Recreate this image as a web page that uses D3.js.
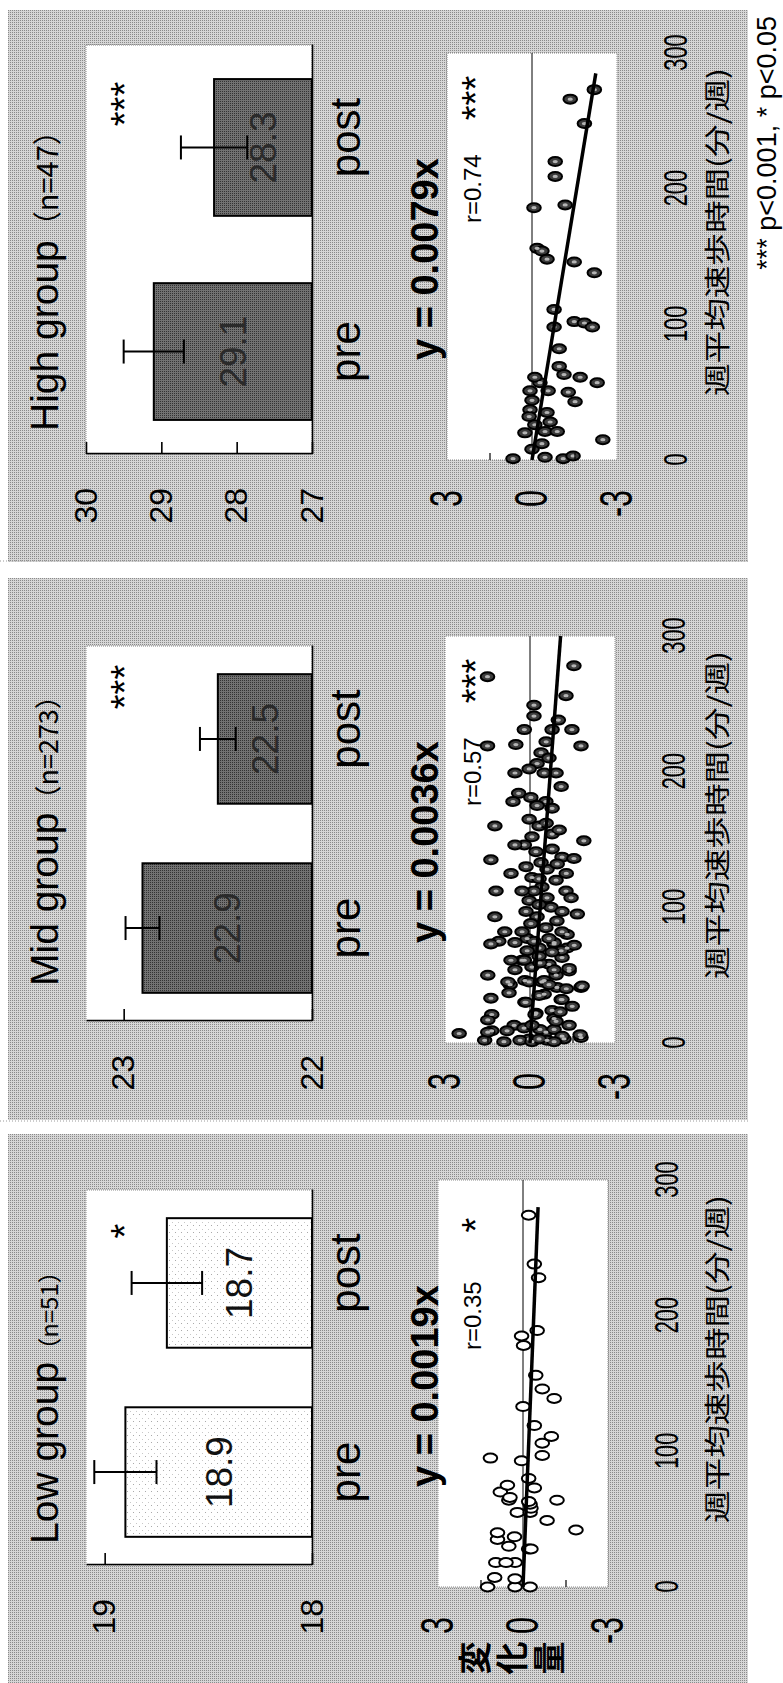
<!DOCTYPE html>
<html>
<head>
<meta charset="utf-8">
<script src="https://cdn.jsdelivr.net/npm/d3@7"></script>
<style>
body { margin: 0; background: #fff; }
svg { display: block; }
text { font-family: "Liberation Sans", Arial, sans-serif; fill: #000; }
.jp { font-family: "Noto Sans CJK JP", sans-serif; }
</style>
</head>
<body>
<div id="chart"></div>
<script>
var W = 783, H = 1683;

// ---- data ----
var groupNames = ["Low group", "Mid group", "High group"];
var groupN = ["（n=51）", "（n=273）", "（n=47）"];
var phases = ["pre", "post"];
var preMeans = [18.9, 22.9, 29.1];
var postMeans = [18.7, 22.5, 28.3];
var preErr = [0.15, 0.09, 0.4];
var postErr = [0.17, 0.095, 0.44];
var barDomains = [[18, 19.09], [22, 23.2], [27, 30]];
var barTicks = [[18, 19], [22, 23], [27, 28, 29, 30]];
var barStars = ["*", "***", "***"];
var slopes = [-0.0019, -0.0036, -0.0079];
var eqLabels = ["y = 0.0019x", "y = 0.0036x", "y = 0.0079x"];
var rLabels = ["r=0.35", "r=0.57", "r=0.74"];
var rStars = ["*", "***", "***"];
var lineEnds = [280, 300, 285];
var scatterXTicks = [0, 100, 200, 300];
var scatterYTicks = [3, 0, -3];
var xTitle = "週平均速歩時間(分/週)";
var yTitle = ["変", "化", "量"];
var footnote = "*** p<0.001, * p<0.05";

var lowPts = [[0,1.25],[0,0.28],[0,-0.25],[6,0.28],[7,1.0],[18,0.28],[28,-0.2],[28,-0.28],[30,0.5],[35,0.9],
  [37,0.3],[40,0.9],[42,-1.87],[49,-0.85],[55,0.2],[55,-0.25],[58,-0.28],[61,-0.25],[63,-0.2],[64,0.5],
  [64,-1.2],[73,-0.4],[80,-0.2],[93,0.05],[95,1.15],[97,-0.68],[106,-0.68],[111,-1.0],[119,-0.4],[133,0],
  [139,-1.1],[146,-0.68],[156,-0.45],[178,-0.02],[185,0.05],[189,-0.5],[228,-0.55],[238,-0.4],[274,-0.2],
  [18,0.96],[18,0.6],[70,0.8],[75,0.55],[66,0.46]];

var midPts = [[278,-1.55],[256,-1.27],[249,-0.14],[241,-0.14],[238,-1.0],[231,-1.48],[231,-0.78],[219,-1.8],
  [214,-0.39],[210,-0.67],[206,-0.25],[199,-0.92],[189,-1.1],[184,0.4],[181,-0.03],[178,-0.56],[165,0.03],
  [160,-0.32],[154,-0.78],[149,-1.9],[146,0.2],[141,-0.21],[137,-1.13],[136,-1.55],[130,0.14],[128,-0.6],
  [122,-0.07],[120,-0.92],[115,-0.42],[112,-1.27],[107,-1.45],[105,0.03],[100,-0.74],[97,-1.13],[93,-0.25],
  [90,-0.95],[85,-0.56],[80,-1.31],[77,0.1],[73,-0.85],[70,-0.32],[63,-1.13],[58,-0.67],[56,-0.07],
  [50,-0.92],[45,-0.42],[41,-1.8],[32,-1.1],[24,-0.78],[22,-0.21],[13,-1.38],[8,-0.56],[4,-1.8],[3,0.03],
  [75,1.1],[74,0.53],[68,0.1],[74,-0.85],[70,-1.31],[61,0.28],[59,-0.35],[54,0.53],[54,-0.85],[53,-1.38],
  [43,0.7],[46,0.18],[46,-0.5],[41,-0.95],[42,-1.84],[37,0.74],[36,-0.5],[30,0.18],[32,-1.13],[21,1.35],
  [21,-0.18],[18,-0.85],[23,-1.06],[13,0.56],[9,1.35],[9,0.81],[11,0.21],[10,-0.35],[10,-0.85],[6,-1.77],
  [7,2.5],[2,1.6],[1,0.92],[2,0.35],[1,-0.07],[2,-0.6],[3,-1.2],[270,1.5],[219,1.5],
  [231,0.2],[222,-0.57],[202,0.03],[199,-0.5],[173,-0.78],[175,-0.25],[162,-0.57],[157,-1.03],[152,-0.07],
  [143,-0.78],[133,-0.39],[132,-0.96],[125,-1.28],[121,-0.32],[112,-0.14],[107,-0.6],[112,0.28],[102,-0.32],
  [95,-1.67],[97,0.14],[88,-0.03],[82,0.28],[82,-1.13],[77,-0.67],[75,-0.14],[72,-1.56],[68,-1.1],
  [64,-0.32],[61,0.2],[55,-1.38],[43,-0.67],[45,0.03],[40,-1.28],[35,-0.32],[30,0.14],[27,-1.49],
  [16,-0.92],[13,-0.07],[5,-1.13],[3,-0.32],[1,-0.85],[67,-0.78],
  [160,1.24],[135,1.38],[112,1.2],[93,1.24],[73,1.38],[50,1.49],[33,1.38],[17,1.49],[8,1.49],
  [82,0.89],[61,0.67],[45,0.78],[125,0.67],[146,0.53],[178,0.6],[199,0.53],[220,0.5]];

var highPts = [[1,0.67],[8,0],[20,0.25],[21,-0.46],[21,-0.89],[2,-0.46],[1,-1.1],[3,-1.45],[15,-2.5],
  [37,0.07],[35,-0.53],[44,0],[51,-0.57],[51,0.07],[57,-0.28],[50,-1.28],[43,-1.52],[57,-2.3],
  [273,-2.2],[266,-1.35],[248,-1.85],[220,-0.82],[209,-0.82],[188,-1.17],[186,-0.07],[156,-0.18],
  [154,-0.35],[148,-0.53],[146,-1.49],[138,-2.2],[111,-0.78],[102,-1.49],[101,-1.85],[98,-2.13],
  [98,-0.78],[82,-0.96],[69,-0.96],[63,-1.13],[61,-1.7],[61,-0.1],[28,-0.64],[12,-0.35],[32,0.1],[26,-0.1]];

var allPts = [lowPts, midPts, highPts];

// ---- layout (upright coordinates, the whole figure is turned 90 degrees) ----
var panels = [
  {ox: 0, gray: [-5, 549], sTop: 438, titleX: 139, nSize: 24, box: [118, 493], pin: 0.315, pout: 0.149},
  {ox: 544, gray: [563, 1105], sTop: 445, titleX: 153, nSize: 27, box: [118, 493], pin: 0.315, pout: 0.149},
  {ox: 1127, gray: [1121, 1673], sTop: 447, titleX: 125, nSize: 29, box: [102, 511], pin: 0.33, pout: 0.167}
];
var boxT = 86, boxB = 312;
var sL = 96, sR = 503, sH = 170;

var svg = d3.select("#chart").append("svg")
  .attr("width", W)
  .attr("height", H);

var defs = svg.append("defs");
var pat = defs.append("pattern").attr("id", "halftone")
  .attr("width", 2).attr("height", 2).attr("patternUnits", "userSpaceOnUse");
pat.append("rect").attr("width", 2).attr("height", 2).attr("fill", "#d6d6d6");
pat.append("rect").attr("width", 1).attr("height", 1).attr("fill", "#8a8a8a");

var patDark = defs.append("pattern").attr("id", "darkbar")
  .attr("width", 2).attr("height", 2).attr("patternUnits", "userSpaceOnUse");
patDark.append("rect").attr("width", 2).attr("height", 2).attr("fill", "#727272");
patDark.append("rect").attr("width", 1).attr("height", 1).attr("fill", "#333");

var patLight = defs.append("pattern").attr("id", "lightbar")
  .attr("width", 7).attr("height", 6).attr("patternUnits", "userSpaceOnUse");
patLight.append("rect").attr("width", 7).attr("height", 6).attr("fill", "#fff");
patLight.append("rect").attr("x", 2).attr("y", 1).attr("width", 1).attr("height", 1).attr("fill", "#aaa");
patLight.append("rect").attr("x", 5).attr("y", 4).attr("width", 1).attr("height", 1).attr("fill", "#c8c8c8");

svg.append("rect").attr("width", W).attr("height", H).attr("fill", "#fff");

var root = svg.append("g")
  .attr("transform", "translate(0," + H + ") rotate(-90)");

panels.forEach(function(p, i) {
  root.append("rect")
    .attr("x", p.gray[0]).attr("y", 8)
    .attr("width", p.gray[1] - p.gray[0]).attr("height", 740)
    .attr("fill", "url(#halftone)");

  var g = root.append("g").attr("transform", "translate(" + p.ox + ",0)");

  // title
  var t = g.append("text").attr("x", p.titleX).attr("y", 58).style("font-size", "39px");
  t.append("tspan").text(groupNames[i]);
  t.append("tspan").style("font-size", p.nSize + "px").attr("class", "jp").text(groupN[i]);

  // ---- bar chart ----
  var boxL = p.box[0], boxR = p.box[1];
  var xBar = d3.scaleBand().domain(phases).range([boxL, boxR])
    .paddingInner(p.pin).paddingOuter(p.pout);
  var yBar = d3.scaleLinear().domain(barDomains[i]).range([boxB, boxT]);

  g.append("rect").attr("x", boxL).attr("y", boxT)
    .attr("width", boxR - boxL).attr("height", boxB - boxT).attr("fill", "#fff")
    .attr("stroke", "#888").attr("stroke-width", 1).attr("stroke-dasharray", "1,1");

  var vals = [{k: "pre", v: preMeans[i], e: preErr[i]}, {k: "post", v: postMeans[i], e: postErr[i]}];

  g.selectAll(".bar").data(vals).enter().append("rect")
    .attr("class", "bar")
    .attr("x", function(d) { return xBar(d.k); })
    .attr("y", function(d) { return yBar(d.v); })
    .attr("width", xBar.bandwidth())
    .attr("height", function(d) { return boxB - yBar(d.v); })
    .attr("fill", i == 0 ? "url(#lightbar)" : "url(#darkbar)")
    .attr("stroke", "#000").attr("stroke-width", 2);

  var eb = g.selectAll(".err").data(vals).enter().append("g").attr("class", "err");
  eb.append("line")
    .attr("x1", function(d) { return xBar(d.k) + xBar.bandwidth() / 2; })
    .attr("x2", function(d) { return xBar(d.k) + xBar.bandwidth() / 2; })
    .attr("y1", function(d) { return yBar(d.v + d.e); })
    .attr("y2", function(d) { return yBar(d.v - d.e); })
    .attr("stroke", "#000").attr("stroke-width", 2);
  [1, -1].forEach(function(s) {
    eb.append("line")
      .attr("x1", function(d) { return xBar(d.k) + xBar.bandwidth() / 2 - 12; })
      .attr("x2", function(d) { return xBar(d.k) + xBar.bandwidth() / 2 + 12; })
      .attr("y1", function(d) { return yBar(d.v + s * d.e); })
      .attr("y2", function(d) { return yBar(d.v + s * d.e); })
      .attr("stroke", "#000").attr("stroke-width", 2);
  });

  g.selectAll(".barValue").data(vals).enter().append("text")
    .attr("class", "barValue")
    .attr("x", function(d) { return xBar(d.k) + xBar.bandwidth() / 2; })
    .attr("y", function(d) { return (yBar(d.v) + boxB) / 2; })
    .attr("dy", ".35em")
    .style("text-anchor", "middle")
    .style("font-size", "37px")
    .style("fill", i == 0 ? "#111" : "#2a2a2a")
    .text(function(d) { return d.v.toFixed(1); });

  var yAx = g.append("g").attr("transform", "translate(" + boxL + ",0)")
    .call(d3.axisLeft(yBar).tickValues(barTicks[i]).tickSize(-12).tickSizeOuter(0)
      .tickPadding(34).tickFormat(d3.format("d")));
  yAx.selectAll("path, line").attr("stroke", "#000").attr("stroke-width", 1.6);
  yAx.selectAll("text").style("font-size", "32px").style("font-family", null);

  var xAx = g.append("g").attr("transform", "translate(0," + boxB + ")")
    .call(d3.axisBottom(xBar).tickSize(0).tickPadding(18));
  xAx.selectAll("path").attr("stroke", "#000").attr("stroke-width", 1.6);
  xAx.selectAll("text").style("font-size", "42px").style("font-family", null)
    .attr("dx", function(d) { return d == "post" ? 10 : 0; });

  g.append("text").attr("x", 452).attr("y", 138)
    .style("text-anchor", "middle").style("font-size", "38px").text(barStars[i]);

  // ---- scatter ----
  var xS = d3.scaleLinear().domain([0, 300]).range([sL, sR]);
  var yS = d3.scaleLinear().domain([-3, 3]).range([p.sTop + sH, p.sTop]);

  g.append("rect").attr("x", sL).attr("y", p.sTop)
    .attr("width", sR - sL).attr("height", sH).attr("fill", "#fff")
    .attr("stroke", "#888").attr("stroke-width", 1).attr("stroke-dasharray", "1,1");

  g.append("line").attr("x1", sL).attr("x2", sR)
    .attr("y1", yS(0)).attr("y2", yS(0))
    .attr("stroke", "#000").attr("stroke-width", 1);

  g.selectAll(".pt").data(allPts[i]).enter().append("ellipse")
    .attr("class", "pt")
    .attr("cx", function(d) { return xS(d[0]); })
    .attr("cy", function(d) { return yS(d[1]); })
    .attr("rx", 4.5).attr("ry", 6.8)
    .attr("fill", i == 0 ? "#fff" : "#3c3c3c")
    .attr("stroke", "#000").attr("stroke-width", 2);

  if (i > 0) {
    g.selectAll(".ptc").data(allPts[i]).enter().append("ellipse")
      .attr("class", "ptc")
      .attr("cx", function(d) { return xS(d[0]); })
      .attr("cy", function(d) { return yS(d[1]); })
      .attr("rx", 1.6).attr("ry", 2.6)
      .attr("fill", "#b4b4b4");
  }

  var reg = d3.line()
    .x(function(d) { return xS(d); })
    .y(function(d) { return yS(slopes[i] * d); });
  g.append("path").datum([0, lineEnds[i]]).attr("d", reg)
    .attr("stroke", "#000").attr("stroke-width", 3.5).attr("fill", "none");

  var sxAx = g.append("g").attr("transform", "translate(0," + (p.sTop + sH) + ")")
    .call(d3.axisBottom(xS).tickValues(scatterXTicks).tickSize(0).tickPadding(47));
  sxAx.select("path").remove();
  sxAx.selectAll("text").style("font-size", "33px").style("font-family", null)
    .attr("transform", "scale(0.66,1)");

  var syAx = g.append("g").attr("transform", "translate(" + sL + ",0)")
    .call(d3.axisLeft(yS).tickValues(scatterYTicks).tickSize(0)
      .tickFormat(function(d) { return String(d); }));
  syAx.select("path").remove();
  syAx.selectAll("text").style("font-size", "46px").style("font-family", null)
    .attr("x", 0).attr("transform", "translate(-30,0) scale(0.66,1)");

  var minor = g.append("g").attr("transform", "translate(" + sL + ",0)")
    .call(d3.axisLeft(yS).tickValues([1.5, -1.5]).tickSize(-7).tickFormat(""));
  minor.select("path").remove();
  minor.selectAll("line").attr("stroke", "#000").attr("stroke-width", 1.2);

  g.append("text").attr("x", 196).attr("y", 438)
    .style("font-size", "38px").style("font-weight", "bold").text(eqLabels[i]);
  g.append("text").attr("x", 333).attr("y", 481)
    .style("font-size", "24px").text(rLabels[i]);
  g.append("text").attr("x", 458).attr("y", 489)
    .style("text-anchor", "middle").style("font-size", "38px").text(rStars[i]);

  g.append("text").attr("class", "jp").attr("x", 160).attr("y", 727)
    .attr("textLength", 328).attr("lengthAdjust", "spacingAndGlyphs")
    .style("font-size", "26px").text(xTitle);
});

// faint scan lines between the panels
[562, 1122].forEach(function(u) {
  root.append("line").attr("x1", u).attr("x2", u).attr("y1", 0).attr("y2", 750)
    .attr("stroke", "#999").attr("stroke-width", 1).attr("stroke-dasharray", "1,2");
});

// y title, left of the first panel
root.selectAll(".ytitle").data(yTitle).enter().append("text")
  .attr("class", "jp")
  .attr("x", 25)
  .attr("y", function(d, i) { return 475 + i * 37; })
  .attr("dy", ".35em")
  .style("text-anchor", "middle")
  .style("font-size", "33px")
  .style("font-weight", "bold")
  .text(function(d) { return d; });

root.append("text").attr("x", 1667).attr("y", 776)
  .style("text-anchor", "end").style("font-size", "27px").text(footnote);
</script>
</body>
</html>
